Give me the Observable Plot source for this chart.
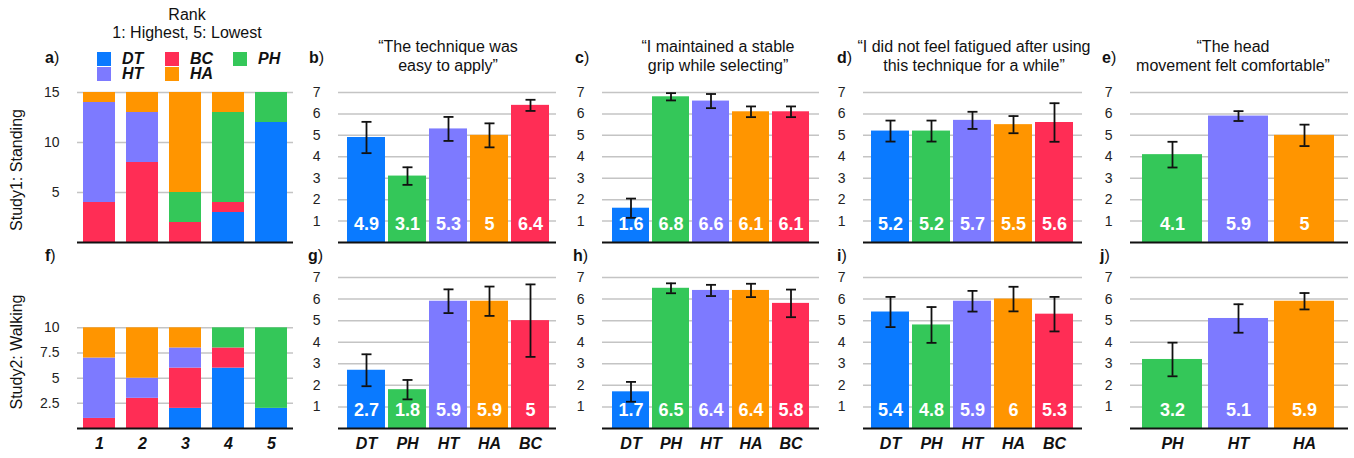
<!DOCTYPE html>
<html><head><meta charset="utf-8">
<script src="https://cdn.jsdelivr.net/npm/d3@7"></script>
<script src="https://cdn.jsdelivr.net/npm/@observablehq/plot@0.6"></script>
<style>
body{margin:0;background:#fff;font-family:"Liberation Sans",Arial,Helvetica,sans-serif;}
#root{position:relative;width:1354px;height:458px;overflow:hidden;background:#fff;color:#111;}
.pl{position:absolute;top:0;}
.title{position:absolute;transform:translateX(-50%);text-align:center;font-size:16px;line-height:19px;white-space:nowrap;}
.plabel{position:absolute;font-size:16px;line-height:19px;}
.study{position:absolute;font-size:16px;white-space:nowrap;transform:translate(-50%,-50%) rotate(-90deg);}
.sw{position:absolute;width:14px;height:14px;}
.lg{position:absolute;font-size:16px;font-weight:bold;font-style:italic;line-height:16px;}
</style></head><body><div id="root"></div><script>
// ---------- DATA ----------
const rankLabels = ["1","2","3","4","5"];
const stackTechs = ["DT","BC","PH","HT","HA"];
const techColors = ["#0a7aff","#ff2d55","#34c759","#7d7aff","#ff9500"];

// Study1 (standing) rank counts, per rank 1..5
const standRankDT = [0,0,0,3,12];
const standRankBC = [4,8,2,1,0];
const standRankPH = [0,0,3,9,3];
const standRankHT = [10,5,0,0,0];
const standRankHA = [1,2,10,2,0];
// Study2 (walking) rank counts
const walkRankDT = [0,0,2,6,2];
const walkRankBC = [1,3,4,2,0];
const walkRankPH = [0,0,0,2,8];
const walkRankHT = [6,2,2,0,0];
const walkRankHA = [3,5,2,0,0];
const standRankTicks = [5,10,15];
const walkRankTicks = [2.5,5,7.5,10];
const likertTicks = [1,2,3,4,5,6,7];

const techs5 = ["DT","PH","HT","HA","BC"];
const techs3 = ["PH","HT","HA"];

// Study1 means and error half-widths
const easyStandMean = [4.9,3.1,5.3,5,6.4];
const easyStandErr  = [0.73,0.41,0.56,0.56,0.26];
const gripStandMean = [1.6,6.8,6.6,6.1,6.1];
const gripStandErr  = [0.45,0.17,0.33,0.25,0.25];
const fatStandMean  = [5.2,5.2,5.7,5.5,5.6];
const fatStandErr   = [0.49,0.49,0.4,0.4,0.9];
const headStandMean = [4.1,5.9,5];
const headStandErr  = [0.6,0.23,0.5];
// Study2 means and error half-widths
const easyWalkMean = [2.7,1.8,5.9,5.9,5];
const easyWalkErr  = [0.74,0.45,0.55,0.68,1.68];
const gripWalkMean = [1.7,6.5,6.4,6.4,5.8];
const gripWalkErr  = [0.46,0.23,0.26,0.31,0.64];
const fatWalkMean  = [5.4,4.8,5.9,6,5.3];
const fatWalkErr   = [0.7,0.83,0.48,0.57,0.8];
const headWalkMean = [3.2,5.1,5.9];
const headWalkErr  = [0.78,0.66,0.38];

const questionTitles = [
  ["\u201CThe technique was","easy to apply\u201D"],
  ["\u201CI maintained a stable","grip while selecting\u201D"],
  ["\u201CI did not feel fatigued after using","this technique for a while\u201D"],
  ["\u201CThe head","movement felt comfortable\u201D"]
];
const panelLetters1 = ["a","b","c","d","e"];
const panelLetters2 = ["f","g","h","i","j"];
const studyLabels = ["Study1: Standing","Study2: Walking"];

// ---------- HELPERS ----------
const root = document.getElementById("root");
const FONT = '"Liberation Sans",Arial,Helvetica,sans-serif';
const colorOpt = {domain: stackTechs, range: techColors};
const capSymbol = {draw(ctx, size){ const r = Math.sqrt(size/Math.PI); ctx.moveTo(-r,0); ctx.lineTo(r,0); }};
const fmt = d => String(d);

function place(el, left, top){ el.classList.add("pl"); el.style.left = left+"px"; el.style.top = top+"px"; root.appendChild(el); }
function addDiv(cls, html, css){ const d=document.createElement("div"); d.className=cls; d.innerHTML=html; Object.assign(d.style, css); root.appendChild(d); return d; }

const rowGeom = {1:{top:82,height:162,mb:2}, 2:{top:267,height:186,mb:25}};

function rankPanel(counts, ticks, row){
  const g = rowGeom[row];
  const data = [];
  rankLabels.forEach((r,i)=>stackTechs.forEach((t,j)=>data.push({rank:r, tech:t, count:counts[j][i]})));
  const p = Plot.plot({
    width:296, height:g.height, marginTop:10, marginBottom:g.mb, marginLeft:77, marginRight:3,
    style:{background:"transparent", fontFamily:FONT, overflow:"visible"},
    x:{domain:rankLabels, paddingInner:0.26, paddingOuter:0.13, axis:null, label:null},
    y:{domain:[0,15], axis:null, label:null},
    color:colorOpt,
    marks:[
      Plot.gridY(ticks,{stroke:"#c4c4c4", strokeOpacity:1, strokeWidth:1.5}),
      Plot.barY(data,{x:"rank", y:"count", fill:"tech"}),
      Plot.ruleY([0],{stroke:"#111", strokeWidth:2}),
      Plot.axisY(ticks,{tickSize:0, tickPadding:18, fontSize:14, fill:"#222", tickFormat:fmt, label:null}),
      row===2 ? Plot.axisX({tickSize:0, tickPadding:9, fontSize:16, fontWeight:"bold", fontStyle:"italic", fill:"#111", label:null}) : null
    ]
  });
  place(p, 0, g.top);
}

function likertPanel(techs, means, errs, row, left, width, ml, mr, insL, insR, pi){
  const g = rowGeom[row];
  const data = techs.map((t,i)=>({tech:t, mean:means[i], lo:means[i]-errs[i], hi:means[i]+errs[i]}));
  const p = Plot.plot({
    width, height:g.height, marginTop:10, marginBottom:g.mb, marginLeft:ml, marginRight:mr,
    style:{background:"transparent", fontFamily:FONT, overflow:"visible"},
    x:{domain:techs, paddingInner:pi, paddingOuter:pi/2, insetLeft:insL, insetRight:insR, axis:null, label:null},
    y:{domain:[0,7], axis:null, label:null},
    color:colorOpt,
    marks:[
      Plot.gridY(likertTicks,{stroke:"#c4c4c4", strokeOpacity:1, strokeWidth:1.5}),
      Plot.barY(data,{x:"tech", y:"mean", fill:"tech"}),
      Plot.ruleX(data,{x:"tech", y1:"lo", y2:"hi", stroke:"#111", strokeWidth:1.8}),
      Plot.dot(data,{x:"tech", y:"lo", symbol:capSymbol, r:5, fill:"none", stroke:"#111", strokeWidth:1.8}),
      Plot.dot(data,{x:"tech", y:"hi", symbol:capSymbol, r:5, fill:"none", stroke:"#111", strokeWidth:1.8}),
      Plot.text(data,{x:"tech", frameAnchor:"bottom", dy:-13, text:d=>String(d.mean), fill:"white", fontWeight:"bold", fontSize:18}),
      Plot.ruleY([0],{stroke:"#111", strokeWidth:2}),
      Plot.axisY(likertTicks,{tickSize:0, tickPadding:18, fontSize:14, fill:"#222", tickFormat:fmt, label:null}),
      row===2 ? Plot.axisX({tickSize:0, tickPadding:9, fontSize:16, fontWeight:"bold", fontStyle:"italic", fill:"#111", label:null}) : null
    ]
  });
  place(p, left, g.top);
}

// ---------- PANELS ----------
rankPanel([standRankDT,standRankBC,standRankPH,standRankHT,standRankHA], standRankTicks, 1);
rankPanel([walkRankDT,walkRankBC,walkRankPH,walkRankHT,walkRankHA], walkRankTicks, 2);

const colGeom = [
  {left:296, width:261, ml:42, mr:1, insL:7, insR:5, pi:0.07},
  {left:557, width:263, ml:45, mr:1, insL:7, insR:7, pi:0.07},
  {left:821, width:262, ml:42, mr:1, insL:7, insR:7, pi:0.07},
  {left:1084, width:266, ml:46, mr:2, insL:9, insR:11, pi:0.09}
];
const row1 = [[techs5,easyStandMean,easyStandErr],[techs5,gripStandMean,gripStandErr],[techs5,fatStandMean,fatStandErr],[techs3,headStandMean,headStandErr]];
const row2 = [[techs5,easyWalkMean,easyWalkErr],[techs5,gripWalkMean,gripWalkErr],[techs5,fatWalkMean,fatWalkErr],[techs3,headWalkMean,headWalkErr]];
row1.forEach((r,i)=>{const c=colGeom[i]; likertPanel(r[0],r[1],r[2],1,c.left,c.width,c.ml,c.mr,c.insL,c.insR,c.pi);});
row2.forEach((r,i)=>{const c=colGeom[i]; likertPanel(r[0],r[1],r[2],2,c.left,c.width,c.ml,c.mr,c.insL,c.insR,c.pi);});

// ---------- TEXT ----------
const titleCenters = [448, 718, 974, 1233];
questionTitles.forEach((t,i)=>addDiv("title", t.join("<br>"), {left:titleCenters[i]+"px", top:"37px"}));
addDiv("title", "Rank<br>1: Highest, 5: Lowest", {left:"187px", top:"6px", lineHeight:"18px"});

const labelX1 = [45, 309, 575, 837, 1102];
const labelX2 = [45, 308, 573, 837, 1100];
panelLetters1.forEach((l,i)=>addDiv("plabel", "<b>"+l+"</b>)", {left:labelX1[i]+"px", top:"48px"}));
panelLetters2.forEach((l,i)=>addDiv("plabel", "<b>"+l+"</b>)", {left:labelX2[i]+"px", top:"246px"}));

addDiv("study", studyLabels[0], {left:"17px", top:"170px"});
addDiv("study", studyLabels[1], {left:"17px", top:"352px"});

// legend
const legendPos = {DT:[97,52], BC:[165,52], PH:[233,52], HT:[97,67], HA:[165,67]};
stackTechs.forEach((t,i)=>{
  const [x,y] = legendPos[t];
  addDiv("sw", "", {left:x+"px", top:y+"px", background:techColors[i]});
  addDiv("lg", t, {left:(x+25)+"px", top:(y-1)+"px"});
});
</script></body></html>
